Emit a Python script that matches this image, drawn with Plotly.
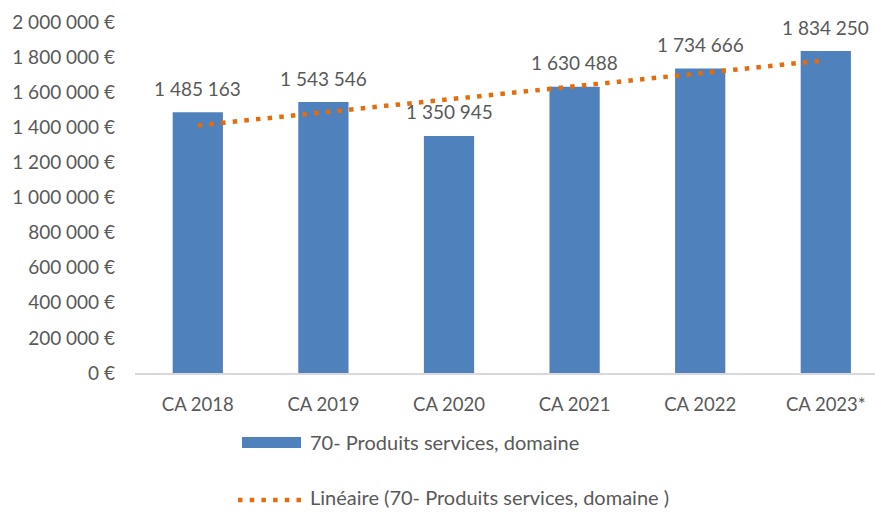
import numpy as np
import plotly.graph_objects as go

categories = ["CA 2018", "CA 2019", "CA 2020", "CA 2021", "CA 2022", "CA 2023*"]
values = [1485163, 1543546, 1350945, 1630488, 1734666, 1834250]
bar_name = "70- Produits services, domaine"
trend_name = "Linéaire (70- Produits services, domaine )"
y_ticks = [0, 200000, 400000, 600000, 800000, 1000000, 1200000, 1400000,
           1600000, 1800000, 2000000]

BAR = "#4F81BD"
TREND = "#E46C0A"
TXT = "#595959"
FONT = "Lato"

# Excel-style linear trendline (least squares on category index)
idx = np.arange(1, len(values) + 1)
slope, intercept = np.polyfit(idx, values, 1)
trend = slope * idx + intercept

def fmt(v):
    return f"{v:,.0f}".replace(",", " ")

fig = go.Figure()
fig.add_trace(go.Bar(
    x=categories, y=values, name=bar_name, width=0.4,
    marker=dict(color=BAR, line=dict(width=0)), showlegend=False,
))
fig.add_trace(go.Scatter(
    x=categories, y=trend, name=trend_name, mode="lines",
    line=dict(color=TREND, width=4.5, dash="4.5px,7.2px"), showlegend=False,
))

for c, v in zip(categories, values):
    fig.add_annotation(x=c, y=v, text=fmt(v), showarrow=False, yshift=24,
                       font=dict(family=FONT, size=19, color=TXT))

# manual legend (two stacked entries)
W, H, L, T = 740, 351, 135, 22
def px_x(p):
    return (p - L) / W
def px_y(p):
    return (T + H - p) / H

fig.add_shape(type="rect", xref="paper", yref="paper",
              x0=px_x(242), x1=px_x(301), y0=px_y(437), y1=px_y(448),
              fillcolor=BAR, line=dict(width=0))
fig.add_shape(type="line", xref="paper", yref="paper",
              x0=px_x(238), x1=px_x(304), y0=px_y(500), y1=px_y(500),
              line=dict(color=TREND, width=4.5, dash="4.5px,7.2px"))
fig.add_annotation(xref="paper", yref="paper", x=px_x(308), y=px_y(442),
                   text=bar_name, showarrow=False, xanchor="left", yanchor="middle",
                   font=dict(family=FONT, size=20, color=TXT))
fig.add_annotation(xref="paper", yref="paper", x=px_x(308), y=px_y(497),
                   text=trend_name, showarrow=False, xanchor="left", yanchor="middle",
                   font=dict(family=FONT, size=20, color=TXT))

fig.update_layout(
    width=875, height=512,
    margin=dict(l=L, r=0, t=T, b=512 - T - H, pad=0),
    paper_bgcolor="white", plot_bgcolor="white",
    font=dict(family=FONT, size=18, color=TXT),
    separators=", ",
    xaxis=dict(
        range=[-0.5, -0.5 + W / 125.6], showgrid=False, zeroline=False,
        showline=True, linecolor="#D9D9D9", linewidth=1.5,
        ticks="", tickfont=dict(family=FONT, size=18.5, color=TXT),
        ticklabelstandoff=14,
    ),
    yaxis=dict(
        range=[0, 2000000], tickvals=y_ticks,
        ticktext=[fmt(t) + " €" for t in y_ticks],
        showgrid=False, zeroline=False, showline=False, ticks="",
        tickfont=dict(family=FONT, size=19, color=TXT),
        ticklabelstandoff=19,
    ),
)

fig.write_html("out.html", config={"displayModeBar": False},
               post_script="document.body.style.margin='0px';")
